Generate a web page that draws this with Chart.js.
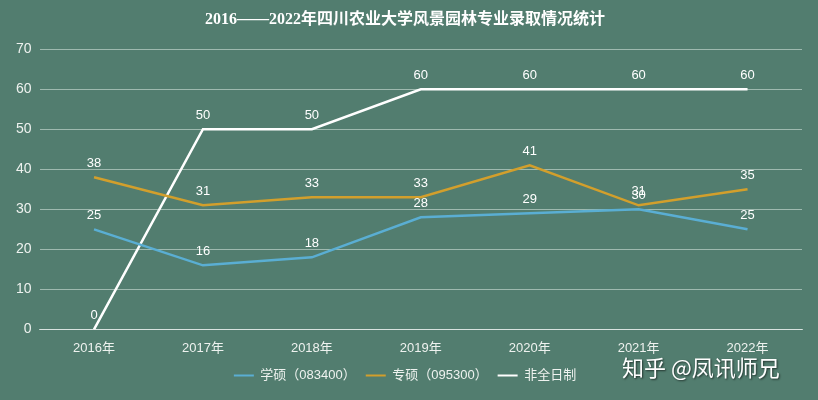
<!DOCTYPE html>
<html>
<head>
<meta charset="utf-8">
<script src="https://cdn.jsdelivr.net/npm/chart.js@4/dist/chart.umd.min.js"></script>
<style>
  html, body { margin: 0; padding: 0; background: #527d6f; }
  #wrap { width: 818px; height: 400px; position: relative; }
  #mark {
    position: absolute; left: 622px; top: 350px;
    font: 22px "Noto Sans CJK SC", sans-serif; color: #ffffff;
    text-shadow: 1px 1px 2px rgba(0,0,0,0.6);
  }
</style>
</head>
<body>
<div id="wrap">
  <canvas id="chart" width="818" height="400"></canvas>
  <div id="mark">知乎 @凤讯师兄</div>
</div>
<script>
// 数据
const years = ["2016年", "2017年", "2018年", "2019年", "2020年", "2021年", "2022年"];
const xueshuo = [25, 16, 18, 28, 29, 30, 25];
const zhuanshuo = [38, 31, 33, 33, 41, 31, 35];
const feiquan = [0, 50, 50, 60, 60, 60, 60];

const textColor = "#eef2ef";
const fontFamily = "'Liberation Sans', 'Noto Sans CJK SC', sans-serif";

// 数据标签
const labelPlugin = {
  id: "pointLabels",
  afterDatasetsDraw(chart) {
    const ctx = chart.ctx;
    ctx.save();
    ctx.fillStyle = "#ffffff";
    ctx.font = "13px " + fontFamily;
    ctx.textAlign = "center";
    ctx.textBaseline = "middle";
    chart.data.datasets.forEach((ds, i) => {
      chart.getDatasetMeta(i).data.forEach((pt, j) => {
        ctx.fillText(ds.data[j], pt.x, pt.y - 14);
      });
    });
    ctx.restore();
  }
};

new Chart(document.getElementById("chart"), {
  type: "line",
  data: {
    labels: years,
    datasets: [
      { label: "学硕（083400）", data: xueshuo, borderColor: "#5aaed3", backgroundColor: "#5aaed3" },
      { label: "专硕（095300）", data: zhuanshuo, borderColor: "#d29f2c", backgroundColor: "#d29f2c" },
      { label: "非全日制", data: feiquan, borderColor: "#ffffff", backgroundColor: "#ffffff" }
    ]
  },
  options: {
    responsive: false,
    animation: false,
    elements: {
      line: { borderWidth: 2.5, tension: 0 },
      point: { radius: 0 }
    },
    layout: { padding: { left: 8, right: 16, top: 6, bottom: 8 } },
    scales: {
      x: {
        offset: true,
        grid: { display: false },
        border: { color: "rgba(255,255,255,0.6)" },
        ticks: { color: textColor, font: { size: 13, family: fontFamily }, padding: 3 }
      },
      y: {
        min: 0, max: 70,
        ticks: { stepSize: 10, color: textColor, font: { size: 14, family: fontFamily }, padding: 8 },
        grid: { color: "rgba(220,235,228,0.55)", drawTicks: false },
        border: { display: false }
      }
    },
    plugins: {
      title: {
        display: true,
        text: "2016——2022年四川农业大学风景园林专业录取情况统计",
        color: "#ffffff",
        font: { size: 16, weight: "bold", family: "'Liberation Serif', 'Noto Sans CJK SC', serif" },
        padding: { top: 4, bottom: 20 }
      },
      legend: {
        position: "bottom",
        labels: {
          color: textColor,
          font: { size: 13, family: fontFamily },
          boxWidth: 20,
          boxHeight: 2,
          padding: 10,
          generateLabels(chart) {
            const items = Chart.defaults.plugins.legend.labels.generateLabels(chart);
            items.forEach(it => { it.lineWidth = 0; });
            return items;
          }
        }
      },
      tooltip: { enabled: false }
    }
  },
  plugins: [labelPlugin]
});
</script>
</body>
</html>
